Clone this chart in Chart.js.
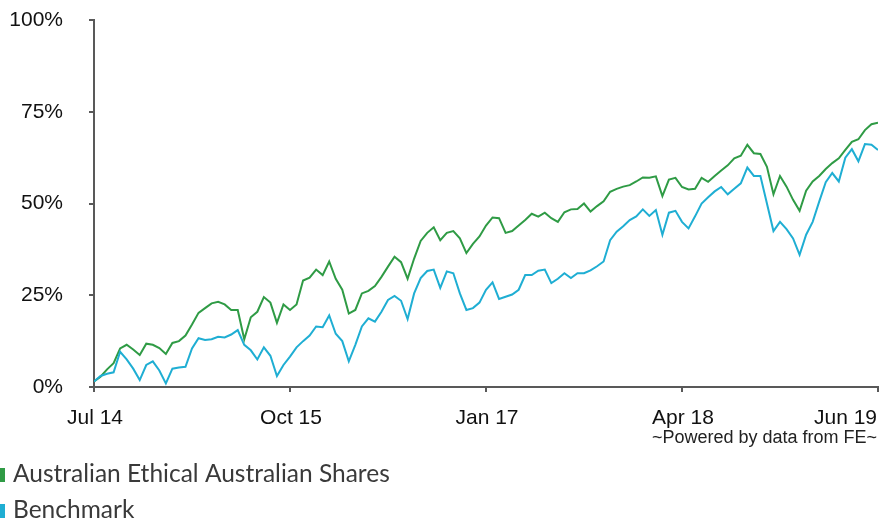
<!DOCTYPE html>
<html>
<head>
<meta charset="utf-8">
<script src="https://cdn.jsdelivr.net/npm/chart.js@4.4.0/dist/chart.umd.min.js"></script>
<style>
  html, body { margin: 0; padding: 0; background: #fff; }
</style>
</head>
<body>
<canvas id="grafico" width="880" height="520"></canvas>
<script>
// months from Jul 14, one value every half month
const stepMonths = 0.5;
const tickLabels = ['Jul 14', 'Oct 15', 'Jan 17', 'Apr 18', 'Jun 19'];
const tickEvery = 15;
const seriesNames = ['Australian Ethical Australian Shares', 'Benchmark'];
const credit = '~Powered by data from FE~';

const fund = [
  1.5, 2.8, 4.8, 6.5, 10.5, 11.5, 10.2, 8.7, 11.8, 11.5,
  10.6, 9, 12, 12.5, 14, 17, 20.2, 21.5, 22.8, 23.2,
  22.5, 21, 21, 13, 19, 20.5, 24.5, 23, 17.5, 22.5,
  21, 22.5, 29, 29.8, 32, 30.5, 34.2, 29.5, 26.5, 20,
  21, 25.5, 26.2, 27.5, 30, 32.8, 35.5, 34, 29.5, 35,
  39.8, 42, 43.5, 40, 42, 42.5, 40.5, 36.5, 39, 41,
  44, 46.2, 46, 42, 42.5, 44, 45.5, 47.2, 46.4, 47.5,
  46, 45, 47.6, 48.4, 48.5, 50, 47.8, 49.3, 50.6, 53.2,
  54, 54.6, 55, 56, 57.1, 57, 57.4, 52, 56.5, 57,
  54.5, 53.8, 54, 57, 55.9, 57.5, 59, 60.4, 62.3, 63,
  66, 63.7, 63.5, 60, 52.5, 57.5, 54.6, 51, 48, 53.5,
  56, 57.5, 59.4, 61, 62.3, 64.6, 66.8, 67.5, 70, 71.6,
  72
];

const benchmark = [
  1.5, 3, 3.6, 4, 9.6, 7.5, 5, 1.9, 6, 7,
  4.5, 1, 5, 5.3, 5.5, 10.5, 13.3, 12.8, 13, 13.7,
  13.5, 14.3, 15.5, 11.5, 10, 7.5, 10.8, 8.5, 3, 6,
  8.3, 10.8, 12.5, 14, 16.5, 16.3, 19.5, 14.5, 12.5, 7,
  11.5, 16.5, 18.7, 17.8, 20.5, 23.7, 24.8, 23.5, 18.5, 25.5,
  29.7, 31.6, 32, 27, 31.5, 31, 25.5, 21, 21.5, 23,
  26.5, 28.5, 24, 24.6, 25.2, 26.5, 30.5, 30.5, 31.7, 32,
  28.3, 29.5, 31, 29.7, 31, 31, 31.8, 32.9, 34.2, 40,
  42.3, 43.8, 45.5, 46.5, 48.4, 46.6, 48.2, 41.5, 47.5, 48,
  45, 43.2, 46.5, 50, 51.7, 53.3, 54.5, 52.5, 54, 55.5,
  59.8, 57.5, 57.5, 50, 42.5, 45, 43, 40.5, 36, 41.5,
  45, 50.5, 55.8, 58.3, 56, 62.5, 64.8, 61.5, 66.2, 66,
  64.6
];

const axisColour = '#595959';
const labelFont = 'Arial, "Liberation Sans", sans-serif';

function toPoints(values) {
  return values.map((v, i) => ({ x: i * stepMonths, y: v }));
}

// x labels drawn by hand: the last one sits right-aligned like the original
const extras = {
  id: 'extras',
  afterDraw(chart) {
    const c = chart.ctx;
    const xs = chart.scales.x;
    c.save();
    c.fillStyle = '#111';
    c.font = '21px ' + labelFont;
    tickLabels.forEach((t, i) => {
      const px = xs.getPixelForValue(i * tickEvery);
      const last = i === tickLabels.length - 1;
      c.textAlign = last ? 'right' : 'center';
      c.fillText(t, last ? px - 1 : px + 1, 424);
    });

    c.font = '18px ' + labelFont;
    c.textAlign = 'right';
    c.fillStyle = '#222';
    c.fillText(credit, xs.right - 1, 443);

    // legend, one entry per line
    c.font = '24.5px Lato, sans-serif';
    c.textAlign = 'left';
    chart.data.datasets.forEach((ds, i) => {
      const y = 482 + i * 36;
      c.fillStyle = ds.borderColor;
      c.fillRect(0, y - 14, 5, 14);
      c.fillStyle = '#3a3a3a';
      c.fillText(ds.label, 13, y);
    });
    c.restore();
  }
};

const ctx = document.getElementById('grafico').getContext('2d');

new Chart(ctx, {
  type: 'line',
  data: {
    datasets: [
      {
        label: seriesNames[0],
        data: toPoints(fund),
        borderColor: '#2f9b45',
        backgroundColor: '#2f9b45',
        borderWidth: 2,
        pointRadius: 0,
        order: 1
      },
      {
        label: seriesNames[1],
        data: toPoints(benchmark),
        borderColor: '#1faed3',
        backgroundColor: '#1faed3',
        borderWidth: 2,
        pointRadius: 0,
        order: 0
      }
    ]
  },
  options: {
    responsive: false,
    animation: false,
    layout: { padding: { top: 20, right: 2, left: 0, bottom: 0 } },
    plugins: {
      legend: { display: false },
      tooltip: { enabled: false }
    },
    scales: {
      x: {
        type: 'linear',
        min: 0,
        max: 60,
        ticks: {
          stepSize: tickEvery,
          color: 'rgba(0,0,0,0)',
          font: { size: 21 },
          callback: v => tickLabels[v / tickEvery]
        },
        grid: { drawOnChartArea: false, color: axisColour, lineWidth: 2, tickLength: 5 },
        border: { color: axisColour, width: 2 },
        afterFit: s => { s.height = 133; s.paddingLeft = 0; s.paddingRight = 0; }
      },
      y: {
        min: 0,
        max: 100,
        ticks: {
          stepSize: 25,
          padding: 26,
          color: '#111',
          font: { size: 21, family: labelFont },
          callback: v => v + '%'
        },
        grid: { drawOnChartArea: false, color: axisColour, lineWidth: 2, tickLength: 5 },
        border: { color: axisColour, width: 2 },
        afterFit: s => { s.width = 94; s.paddingTop = 0; s.paddingBottom = 0; }
      }
    }
  },
  plugins: [extras]
});
</script>
</body>
</html>
